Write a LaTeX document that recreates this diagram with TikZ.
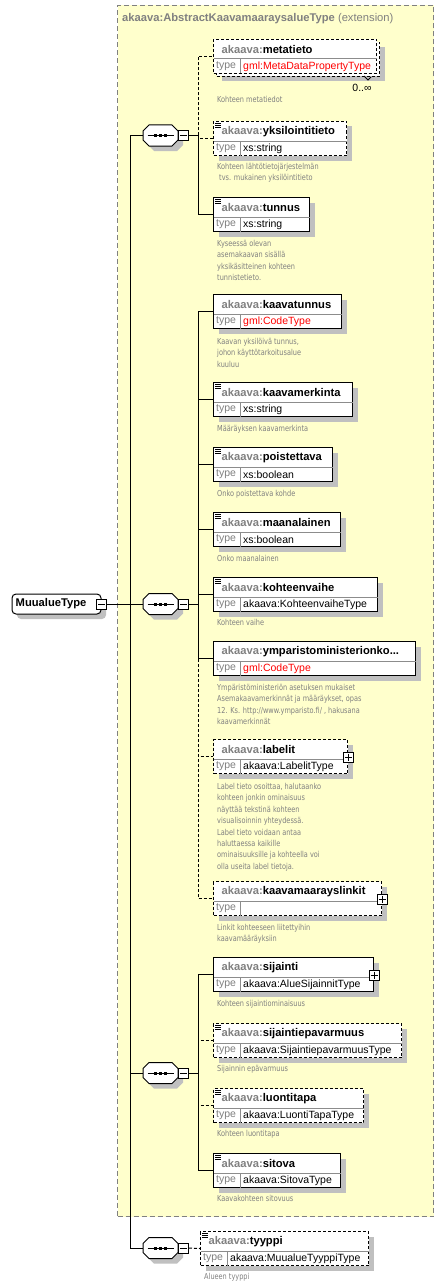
\documentclass[tikz,border=0pt]{standalone}
\usepackage{fontspec}
\setmainfont{Liberation Sans}
\newfontfamily\descfont[FakeStretch=0.8]{DejaVu Sans}
\usetikzlibrary{calc,shadows}
\definecolor{ylw}{HTML}{FFFFCC}
\definecolor{tgray}{HTML}{808080}
\definecolor{shd}{HTML}{C0C0C0}
\definecolor{dgray}{HTML}{8C8C8C}
\definecolor{xred}{HTML}{FF0000}
\newcommand\fhdr{\fontsize{11.2}{13}\selectfont\bfseries}
\newcommand\ftyp{\fontsize{10.5}{12}\selectfont}
\newcommand\fdesc{\descfont\fontsize{8.2}{11.4}\selectfont}
\tikzset{
  shad/.style={drop shadow={shadow xshift=5pt,shadow yshift=-5pt,fill=shd,opacity=1}},
  ebox/.style={draw=black,fill=white,line width=1pt,rectangle,inner sep=0pt,minimum height=34pt,anchor=north west},
  optd/.style={dash pattern=on 3pt off 2pt},
  divl/.style={draw=dgray,line width=1pt},
  hdr/.style={font=\fhdr,anchor=west,inner sep=0pt},
  typ/.style={font=\ftyp,anchor=west,inner sep=0pt},
  descn/.style={font=\fdesc,text=tgray,anchor=north west,inner sep=0pt,align=left},
  conn/.style={draw=black,line width=1pt},
  seqanchor/.style={rectangle,draw=none,minimum width=35pt,minimum height=21pt,inner sep=0pt,outer sep=0pt},
  mbox/.style={draw=black,fill=white,line width=1pt,minimum size=10pt,inner sep=0pt},
  pbox/.style={draw=black,fill=white,line width=1pt,minimum size=10pt,inner sep=0pt},
}
\newcommand\elem[7]{%
  \node[ebox,#1,minimum width=#5pt] (#2) at (#3,#4) {};
  \draw[divl] ($(#2.north west)+(0.5,20)$) -- ($(#2.north east)+(-0.5,20)$);
  \draw[divl] ($(#2.north west)+(27,20)$) -- ($(#2.south west)+(27,-0.5)$);
  \node[hdr] (#2-h) at ($(#2.north west)+(8.5,10.5)$) {\textcolor{tgray}{akaava:}#6};
  \node[typ] (#2-tl) at ($(#2.north west)+(3,27.5)$) {\textcolor{tgray}{type}};
  \node[typ] (#2-tv) at ($(#2.north west)+(30,27.5)$) {#7};
}
\newcommand\simp[1]{\foreach \k in {2,4,6}{\draw[line width=0.8pt] ($(#1.north west)+(2,\k)$) -- ++(6,0);}}
\newcommand\plusb[1]{%
  \node[pbox] (#1-p) at ($(#1.north east)+(0,18)$) {};
  \draw[line width=1pt] ($(#1-p.center)+(-3.5,0)$) -- ++(7,0);
  \draw[line width=1pt] ($(#1-p.center)+(0,-3.5)$) -- ++(0,7);}
\newcommand\octpath{(-17.5,-4.5) -- (-11.5,-10.5) -- (11.5,-10.5) -- (17.5,-4.5) -- (17.5,4.5) -- (11.5,10.5) -- (-11.5,10.5) -- (-17.5,4.5) -- cycle}
\newcommand\seqn[3]{%
  \begin{scope}[shift={(#2+5,#3+5)}]\fill[shd] \octpath;\end{scope}
  \begin{scope}[shift={(#2,#3)}]\filldraw[fill=white,draw=black,line width=1pt] \octpath;\end{scope}
  \node[seqanchor] (#1) at (#2,#3) {};
  \draw[line width=1pt] ($(#1.center)+(-13,0)$) -- ($(#1.center)+(13,0)$);
  \foreach \d in {-5,0,5}{\fill ($(#1.center)+(\d-1.5,-1.5)$) rectangle ++(3,3);}
  \node[mbox] (#1m) at ($(#1.east)+(5.5,0)$) {};
  \draw[line width=1pt] ($(#1m.center)+(-3.5,0)$) -- ++(7,0);}
\newcommand\desc[4]{\node[descn] (#1) at (#2,#3-4) {#4};}
\begin{document}
\begin{tikzpicture}[x=1pt,y=-1pt]
\useasboundingbox (0,0) rectangle (445,1287);
\fill[white] (0,0) rectangle (445,1287);
% extension container
\node[draw=tgray,fill=ylw,line width=1pt,dash pattern=on 5pt off 3pt,inner sep=0pt,minimum width=316pt,minimum height=1211pt,anchor=north west] (ext) at (117,5) {};
\node[hdr,text=tgray] (title) at (122,19) {akaava:AbstractKaavamaaraysalueType \mdseries(extension)};
% root
\node[draw=black,fill=white,line width=1pt,rounded corners=4pt,minimum width=89pt,minimum height=20pt,inner sep=0pt,shad] (root) at (56.5,604) {};
\node[hdr] (root-t) at (15.5,604) {MuualueType};
\node[mbox] (rootm) at (101.5,604) {};
\draw[line width=1pt] ($(rootm.center)+(-3.5,0)$) -- ++(7,0);
% sequences
\seqn{seqA}{160.5}{135.5}
\seqn{seqB}{160.5}{604}
\seqn{seqC}{160.5}{1073}
\seqn{seqD}{160.5}{1248}
\coordinate (mv) at (130,604);
\coordinate (vA) at (198,135.5);
\coordinate (vB) at (198,604);
\coordinate (vC) at (198,1073);
% elements group A
\node[ebox,optd,shad,minimum width=163pt] (metaback) at (216,42) {};
\elem{optd}{metatieto}{213}{39}{163}{metatieto}{\textcolor{xred}{gml:MetaDataPropertyType}}
\node[font=\ftyp,inner sep=0pt] (mult) at (362,88) {0..∞};
\draw[line width=0.8pt] (364,76) -- (368,80) -- (371,77);
\elem{optd,shad}{yksilo}{213}{121}{133}{yksilointitieto}{xs:string}\simp{yksilo}
\elem{shad}{tunnus}{213}{197}{96}{tunnus}{xs:string}\simp{tunnus}
% group B
\elem{shad}{kaavatunnus}{213}{294}{128}{kaavatunnus}{\textcolor{xred}{gml:CodeType}}
\elem{shad}{kaavamerk}{213}{382}{139}{kaavamerkinta}{xs:string}\simp{kaavamerk}
\elem{shad}{poist}{213}{447}{119}{poistettava}{xs:boolean}\simp{poist}
\elem{shad}{maanal}{213}{512}{127}{maanalainen}{xs:boolean}\simp{maanal}
\elem{shad}{kvaihe}{213}{577}{164}{kohteenvaihe}{akaava:KohteenvaiheType}\simp{kvaihe}
\elem{shad}{ympar}{213}{641}{202}{ymparistoministerionko...}{\textcolor{xred}{gml:CodeType}}
\elem{optd,shad}{labelit}{213}{739}{134}{labelit}{akaava:LabelitType}\plusb{labelit}
\elem{optd,shad}{kmlink}{213}{881}{168}{kaavamaarayslinkit}{}\plusb{kmlink}
% group C
\elem{shad}{sijainti}{213}{957}{160}{sijainti}{akaava:AlueSijainnitType}\plusb{sijainti}
\elem{optd,shad}{sijep}{213}{1023}{188}{sijaintiepavarmuus}{akaava:SijaintiepavarmuusType}\simp{sijep}
\elem{optd,shad}{luonti}{213}{1088}{150}{luontitapa}{akaava:LuontiTapaType}\simp{luonti}
\elem{shad}{sitova}{213}{1153}{127}{sitova}{akaava:SitovaType}\simp{sitova}
% group D
\elem{optd,shad}{tyyppi}{200}{1231}{168}{tyyppi}{akaava:MuualueTyyppiType}\simp{tyyppi}
% connectors
\draw[conn] (rootm.east) -- (seqB.west);
\draw[conn] (mv) |- (seqA.west);
\draw[conn] (mv) |- (seqC.west);
\draw[conn] (mv) |- (seqD.west);
\draw[conn] (seqAm.east) -- (vA);
\draw[conn] (seqBm.east) -- (vB);
\draw[conn] (seqCm.east) -- (vC);
\draw[conn,optd] (vA) |- (metatieto.west);
\draw[conn,optd] (vA) |- (yksilo.west);
\draw[conn] (vA) |- (tunnus.west);
\draw[conn] (vB) |- (kaavatunnus.west);
\draw[conn] (vB) |- (kaavamerk.west);
\draw[conn] (vB) |- (poist.west);
\draw[conn] (vB) |- (maanal.west);
\draw[conn] (vB) |- (kvaihe.west);
\draw[conn,optd] (vB) |- (labelit.west);
\draw[conn,optd] (vB) |- (kmlink.west);
\draw[conn] (vB) |- (ympar.west);
\draw[conn] (vC) |- (sijainti.west);
\draw[conn,optd] (vC) |- (sijep.west);
\draw[conn,optd] (vC) |- (luonti.west);
\draw[conn] (vC) |- (sitova.west);
\draw[conn,optd] (seqDm.east) -- (tyyppi.west);
% descriptions
\desc{d1}{217}{100}{Kohteen metatiedot}
\desc{d2}{217}{167}{Kohteen lähtötietojärjestelmän\\\hspace*{2pt}tvs. mukainen yksilöintitieto}
\desc{d3}{217}{244}{Kyseessä olevan\\asemakaavan sisällä\\yksikäsitteinen kohteen\\tunnistetieto.}
\desc{d4}{217}{342}{Kaavan yksilöivä tunnus,\\johon käyttötarkoitusalue\\kuuluu}
\desc{d5}{217}{429}{Määräyksen kaavamerkinta}
\desc{d6}{217}{494}{Onko poistettava kohde}
\desc{d7}{217}{559}{Onko maanalainen}
\desc{d8}{217}{623}{Kohteen vaihe}
\desc{d9}{217}{688}{Ympäristöministeriön asetuksen mukaiset\\Asemakaavamerkinnät ja määräykset, opas\\12. Ks. http://www.ymparisto.fi/ , hakusana\\kaavamerkinnät}
\desc{d10}{217}{787}{Label tieto osoittaa, halutaanko\\kohteen jonkin ominaisuus\\näyttää tekstinä kohteen\\visualisoinnin yhteydessä.\\Label tieto voidaan antaa\\haluttaessa kaikille\\ominaisuuksille ja kohteella voi\\olla useita label tietoja.}
\desc{d11}{217}{928}{Linkit kohteeseen liitettyihin\\kaavamääräyksiin}
\desc{d12}{217}{1004}{Kohteen sijaintiominaisuus}
\desc{d13}{217}{1069}{Sijainnin epävarmuus}
\desc{d14}{217}{1134}{Kohteen luontitapa}
\desc{d15}{217}{1199}{Kaavakohteen sitovuus}
\desc{d16}{204}{1277}{Alueen tyyppi}
\end{tikzpicture}
\end{document}
